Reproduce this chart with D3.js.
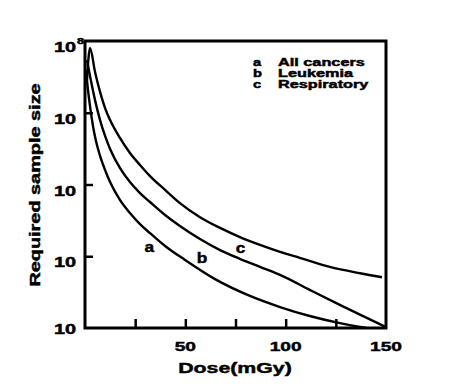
<!DOCTYPE html>
<html>
<head>
<meta charset="utf-8">
<script src="https://cdn.jsdelivr.net/npm/d3@7"></script>
<style>
  body { margin: 0; background: #fff; }
  text { font-family: "Liberation Sans", Arial, sans-serif; font-weight: bold; fill: #000; stroke: #000; stroke-width: 0.45px; }
</style>
</head>
<body>
<div class="chart"></div>
<script>
// curve data: [dose (mGy), required sample size]
let allCancers = [
  [0.5, 3.9e7], [1.5, 2.07e7], [2.5, 1.24e7], [4, 6.5e6], [5.5, 4.0e6],
  [7.5, 2.5e6], [10, 1.59e6], [12.5, 1.08e6], [17.4, 6.1e5], [22.4, 4.0e5],
  [27.4, 2.8e5], [32.4, 2.1e5], [39.9, 1.39e5], [49.8, 8.9e4], [64.8, 4.8e4],
  [82.2, 2.8e4], [97.2, 1.96e4], [112, 1.47e4], [127, 1.17e4], [140.5, 1.0e4]
];
let leukemia = [
  [1, 5.4e7], [2.5, 3.25e7], [5, 1.5e7], [7.5, 7.9e6], [10, 4.75e6],
  [12.5, 3.13e6], [17.4, 1.7e6], [22.4, 1.08e6], [27.4, 7.6e5], [32.4, 5.7e5],
  [39.9, 3.76e5], [47.3, 2.64e5], [57.3, 1.74e5], [67.3, 1.22e5], [77.2, 9.2e4],
  [87.2, 7.1e4], [97.2, 5.5e4], [112, 3.4e4], [127, 2.1e4], [150, 1.03e4]
];
let respiratory = [
  [1, 2.9e7], [2.5, 8.0e7], [5, 3.7e7], [7.5, 1.95e7], [10, 1.16e7],
  [12.5, 7.9e6], [17.4, 4.45e6], [22.4, 2.75e6], [27.4, 1.87e6], [32.4, 1.31e6],
  [39.9, 8.4e5], [47.3, 5.5e5], [57.3, 3.5e5], [67.3, 2.48e5], [77.2, 1.85e5],
  [87.2, 1.44e5], [97.2, 1.15e5], [107, 9.5e4], [122, 7.1e4], [137, 5.8e4],
  [148, 5.1e4]
];

let seriesKeys = ["a", "b", "c"];
let seriesNames = ["All cancers", "Leukemia", "Respiratory"];
// where the letters sit next to the curves: [dose, size]
let curveLabelAt = [[32.1, 1.15e5], [58.3, 8.05e4], [77.5, 1.11e5]];

let xTicks = [25, 50, 75, 100, 125];
let xTickLabels = [50, 100, 150];
let yTicks = [1e5, 1e6, 1e7];
let yLabelValues = [1e8, 1e7, 1e6, 1e5, 1e4];
let yLabelText = ["10", "10", "10", "10", "10"];
let yLabelSup = ["8", "", "", "", ""];

let W = 450, H = 388;
let stretch = 1.42;

let svg = d3.select(".chart")
  .append("svg")
  .attr("width", W)
  .attr("height", H)
  .style("background-color", "white");

let x = d3.scaleLinear().domain([0, 150]).range([85, 386]);
let y = d3.scaleLog().domain([1e4, 1e8]).range([328, 41]);

// wide heavy lettering, like the original
let wide = function(g, px, py, str, size, anchor, sx) {
  return g.append("text")
    .attr("transform", "translate(" + px + "," + py + ") scale(" + (sx || stretch) + ",1)")
    .attr("text-anchor", anchor || "start")
    .style("font-size", size + "px")
    .text(str);
};

// inward ticks
svg.append("g")
  .attr("transform", "translate(0," + y(1e4) + ")")
  .call(d3.axisTop(x).tickValues(xTicks).tickSize(9).tickFormat(""))
  .call(g => g.select(".domain").remove())
  .selectAll("line").attr("stroke", "black").attr("stroke-width", 2.5);

svg.append("g")
  .attr("transform", "translate(" + x(0) + ",0)")
  .call(d3.axisRight(y).tickValues(yTicks).tickSize(8).tickFormat(""))
  .call(g => g.select(".domain").remove())
  .selectAll("line").attr("stroke", "black").attr("stroke-width", 2.5);

// curves
let line = d3.line()
  .x(d => x(d[0]))
  .y(d => y(d[1]))
  .curve(d3.curveMonotoneX);

[allCancers, leukemia, respiratory].forEach(function(s) {
  svg.append("path")
    .datum(s)
    .attr("d", line)
    .attr("fill", "none")
    .attr("stroke", "black")
    .attr("stroke-width", 2.4);
});

// frame
svg.append("rect")
  .attr("x", x(0))
  .attr("y", y(1e8))
  .attr("width", x(150) - x(0))
  .attr("height", y(1e4) - y(1e8))
  .attr("fill", "none")
  .attr("stroke", "black")
  .attr("stroke-width", 3);

// y labels
yLabelValues.forEach(function(v, i) {
  let yy = (i == yLabelValues.length - 1) ? y(v) + 6 : y(v) + 11;
  wide(svg, 76, yy, yLabelText[i], 14, "end");
  if (yLabelSup[i]) wide(svg, 77, yy - 8, yLabelSup[i], 9, "start");
});

// x labels
xTickLabels.forEach(function(v) {
  wide(svg, x(v), 351, String(v), 13.5, "middle");
});

// titles
wide(svg, 235, 373, "Dose(mGy)", 15, "middle");
svg.append("text")
  .attr("transform", "translate(40,185) rotate(-90) scale(" + stretch + ",1)")
  .attr("text-anchor", "middle")
  .style("font-size", "14px")
  .text("Required sample size");

// legend
seriesKeys.forEach(function(k, i) {
  let by = 65.5 + i * 11;
  wide(svg, 253, by, k, 10.5, "start", 1.4);
  wide(svg, 278, by, seriesNames[i], 10.5, "start", 1.55);
});

// letters on the curves
curveLabelAt.forEach(function(p, i) {
  wide(svg, x(p[0]), y(p[1]), seriesKeys[i], 15, "middle", 1.15);
});
</script>
</body>
</html>
